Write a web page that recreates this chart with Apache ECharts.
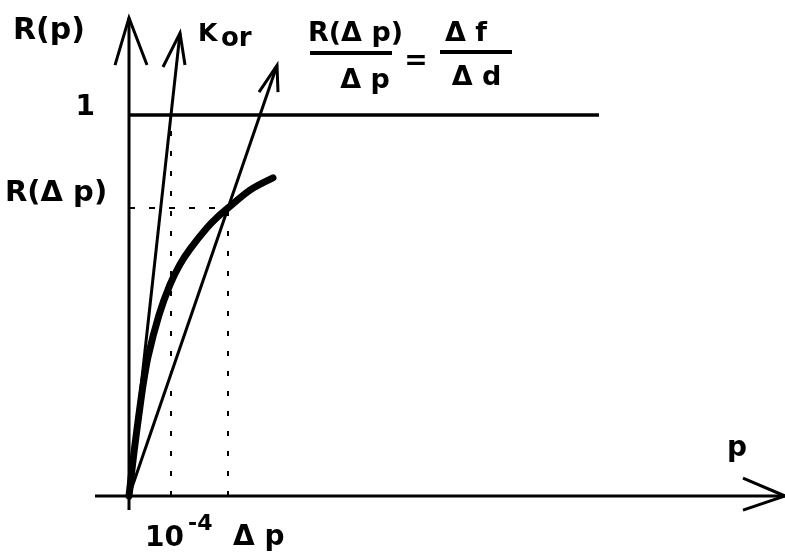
<!DOCTYPE html>
<html>
<head>
<meta charset="utf-8">
<script src="https://cdn.jsdelivr.net/npm/echarts@6/dist/echarts.min.js"></script>
<style>
html,body{margin:0;padding:0;background:#fff;}
#chart{width:785px;height:552px;}
</style>
</head>
<body>
<div id="chart"></div>
<script>
// ---- data (dimensionless schematic units: R = 1 at the top line, delta p = 0.99) ----
const curveX = [0, 0.05, 0.10, 0.14, 0.19, 0.30, 0.41, 0.51, 0.61, 0.78, 0.88, 0.99, 1.21, 1.44];
const curveY = [0, 0.115, 0.215, 0.29, 0.365, 0.475, 0.555, 0.608, 0.648, 0.704, 0.731, 0.756, 0.803, 0.835];
const xAxisLine = [[-0.34, 0], [6.56, 0]];
const xAxisHead = [[6.14, 0.047], [6.56, 0], [6.14, -0.037]];
const yAxisLine = [[0, -0.037], [0, 1.255]];
const yAxisHead = [[-0.14, 1.131], [0, 1.255], [0.18, 1.131]];
const unitLine = [[0, 1], [4.70, 1]];
const korLine = [[0, 0], [0.51, 1.215]];
const korHead = [[0.34, 1.126], [0.51, 1.215], [0.56, 1.131]];
const secantLine = [[0, 0], [1.48, 1.13]];
const secantHead = [[1.30, 1.060], [1.48, 1.13], [1.49, 1.060]];
const p0 = 0.42;      // 10^-4
const dp = 0.99;      // delta p
const rdp = 0.756;    // R(delta p)
const dotted1 = [[p0, 0], [p0, 1]];
const dotted2 = [[dp, 0], [dp, rdp]];
const dashedH = [[0, rdp], [dp, rdp]];

const chart = echarts.init(document.getElementById('chart'));
const FONT = '"DejaVu Sans", "Liberation Sans", sans-serif';
function ln(data, w, type) {
  return {
    type: 'line', data: data, symbol: 'none', clip: false, silent: true,
    lineStyle: { color: '#000', width: w, type: type || 'solid', cap: 'butt', join: 'miter' }
  };
}
function txt(s, x, y, size, align) {
  return {
    type: 'text', x: x, y: y, silent: true,
    style: { text: s, font: 'bold ' + size + 'px ' + FONT, fill: '#000',
             textAlign: align || 'left', textVerticalAlign: 'middle' }
  };
}
function bar(x1, x2, y, w) {
  return { type: 'line', silent: true, shape: { x1: x1, y1: y, x2: x2, y2: y },
           style: { stroke: '#000', lineWidth: w } };
}
const curve = curveX.map((x, i) => [x, curveY[i]]);
const curveSeries = ln(curve, 7);
curveSeries.smooth = 0.3;
curveSeries.lineStyle.join = 'round';
curveSeries.lineStyle.cap = 'round';

chart.setOption({
  animation: false,
  backgroundColor: '#fff',
  grid: { left: 95, right: 0, top: 496 - 381 * 1.26, bottom: 552 - (496 + 381 * 0.045) },
  xAxis: { type: 'value', min: -0.34, max: 6.56, show: false },
  yAxis: { type: 'value', min: -0.045, max: 1.26, show: false },
  series: [
    ln(xAxisLine, 3), ln(xAxisHead, 3),
    ln(yAxisLine, 3), ln(yAxisHead, 3),
    ln(unitLine, 3.5),
    ln(korLine, 3), ln(korHead, 3),
    ln(secantLine, 3), ln(secantHead, 3),
    ln(dotted1, 2, [5, 15]),
    ln(dotted2, 2, [5, 15]),
    ln(dashedH, 2, [6, 14]),
    curveSeries
  ],
  graphic: [
    txt('R(p)', 13, 31.6, 30),
    txt('K', 198, 34.4, 25),
    txt('or', 221, 39, 26),
    txt('1', 95, 107.3, 28, 'right'),
    txt('R(\u0394 p)', 5, 193, 29),
    txt('R(\u0394 p)', 355.5, 33.7, 27, 'center'),
    bar(310, 392, 53, 4),
    txt('\u0394 p', 365, 80.7, 27, 'center'),
    txt('=', 416, 62, 28, 'center'),
    txt('\u0394 f', 466, 33.7, 27, 'center'),
    bar(440, 512, 52, 4),
    txt('\u0394 d', 476.5, 77.7, 27, 'center'),
    txt('p', 727, 448.3, 28),
    txt('10', 145, 538.3, 28),
    txt('-4', 188, 524.4, 22),
    txt('\u0394 p', 233, 537.3, 28)
  ]
});
</script>
</body>
</html>
